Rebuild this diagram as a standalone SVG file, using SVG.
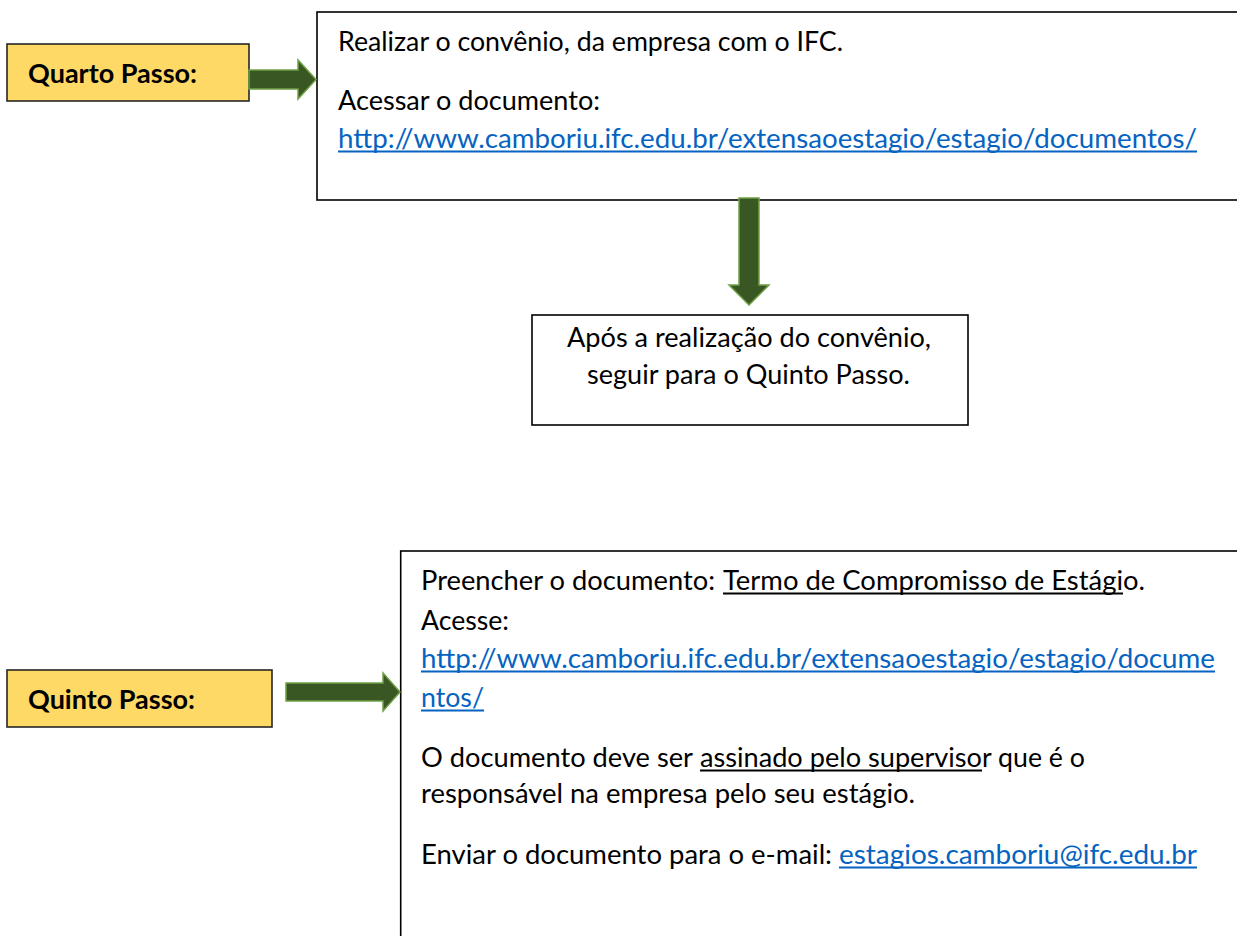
<svg xmlns="http://www.w3.org/2000/svg" width="1237" height="936" viewBox="0 0 1237 936">
<style>
.bg{fill:#ffffff}
.step{fill:#FFD966;stroke:#262626;stroke-width:1.6}
.box{fill:#ffffff;stroke:#000000;stroke-width:1.6}
.lbl{font-family:Lato,"Open Sans",sans-serif;font-weight:bold;font-size:26px;fill:#000000}
.t{font-family:Lato,"Open Sans",sans-serif;font-size:27px;fill:#000000}
.link{font-family:Lato,"Open Sans",sans-serif;font-size:27px;fill:#0563C1}
.ul{stroke:#0563C1;stroke-width:1.8}
.ulk{stroke:#000000;stroke-width:1.8}
.arrow{fill:#385723;stroke:#6FA047;stroke-width:1.5;stroke-linejoin:miter}
</style>
<rect class="bg" x="0" y="0" width="1237" height="936"/>

<g id="quarto-passo">
<rect class="step" x="7" y="44" width="242" height="57"/>
<text class="lbl" x="28" y="83" textLength="169" lengthAdjust="spacingAndGlyphs">Quarto Passo:</text>
</g>

<g id="convenio">
<rect class="box" x="317" y="12" width="930" height="188"/>
<text class="t" x="338" y="51" textLength="505" lengthAdjust="spacingAndGlyphs">Realizar o convênio, da empresa com o IFC.</text>
<text class="t" x="338" y="110" textLength="262" lengthAdjust="spacingAndGlyphs">Acessar o documento:</text>
<text class="link" x="338" y="148" textLength="859" lengthAdjust="spacingAndGlyphs">http://www.camboriu.ifc.edu.br/extensaoestagio/estagio/documentos/</text>
<line class="ul" x1="338" y1="151.5" x2="1197" y2="151.5"/>
</g>

<g id="apos-convenio">
<rect class="box" x="532" y="315" width="436" height="110"/>
<text class="t" x="567" y="347" textLength="364" lengthAdjust="spacingAndGlyphs">Após a realização do convênio,</text>
<text class="t" x="587" y="384" textLength="323" lengthAdjust="spacingAndGlyphs">seguir para o Quinto Passo.</text>
</g>

<g id="quinto-passo">
<rect class="step" x="7" y="670" width="265" height="57"/>
<text class="lbl" x="28" y="709" textLength="167" lengthAdjust="spacingAndGlyphs">Quinto Passo:</text>
</g>

<g id="termo-compromisso">
<rect class="box" x="400.7" y="551" width="900" height="500"/>
<text class="t" x="421" y="590" textLength="294" lengthAdjust="spacingAndGlyphs">Preencher o documento:</text>
<text class="t" x="723" y="590" textLength="400" lengthAdjust="spacingAndGlyphs">Termo de Compromisso de Estági</text>
<text class="t" x="1123" y="590" textLength="22" lengthAdjust="spacingAndGlyphs">o.</text>
<line class="ulk" x1="723" y1="593.5" x2="1123" y2="593.5"/>
<text class="t" x="421" y="630" textLength="88" lengthAdjust="spacingAndGlyphs">Acesse:</text>
<text class="link" x="421" y="668" textLength="794" lengthAdjust="spacingAndGlyphs">http://www.camboriu.ifc.edu.br/extensaoestagio/estagio/docume</text>
<line class="ul" x1="421" y1="671.5" x2="1215" y2="671.5"/>
<text class="link" x="421" y="707" textLength="63" lengthAdjust="spacingAndGlyphs">ntos/</text>
<line class="ul" x1="421" y1="710.5" x2="484" y2="710.5"/>
<text class="t" x="421" y="767" textLength="272" lengthAdjust="spacingAndGlyphs">O documento deve ser</text>
<text class="t" x="700" y="767" textLength="282" lengthAdjust="spacingAndGlyphs">assinado pelo superviso</text>
<text class="t" x="982" y="767" textLength="103" lengthAdjust="spacingAndGlyphs">r que é o</text>
<line class="ulk" x1="700" y1="770.5" x2="982" y2="770.5"/>
<text class="t" x="421" y="803" textLength="494" lengthAdjust="spacingAndGlyphs">responsável na empresa pelo seu estágio.</text>
<text class="t" x="421" y="864" textLength="411" lengthAdjust="spacingAndGlyphs">Enviar o documento para o e-mail:</text>
<text class="link" x="839" y="864" textLength="358" lengthAdjust="spacingAndGlyphs">estagios.camboriu@ifc.edu.br</text>
<line class="ul" x1="839" y1="867.5" x2="1197" y2="867.5"/>
</g>

<g id="connectors">
<polygon class="arrow" points="249,70 298,70 298,60 316,79.5 298,99 298,89 249,89"/>
<polygon class="arrow" points="739,198 759,198 759,285 769,285 749,305 729,285 739,285"/>
<polygon class="arrow" points="286,683 383,683 383,673 400,692 383,711 383,701 286,701"/>
</g>
</svg>
